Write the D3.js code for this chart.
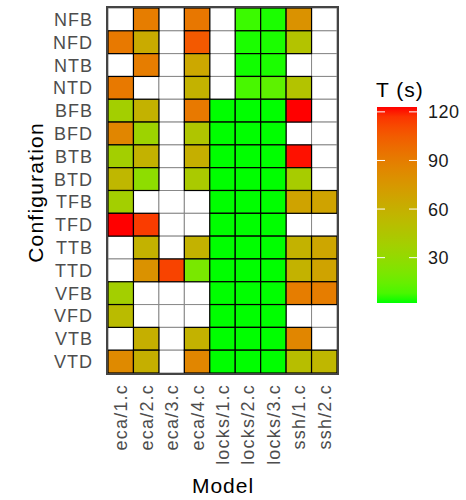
<!DOCTYPE html>
<html>
<head>
<meta charset="utf-8">
<script src="https://cdn.jsdelivr.net/npm/d3@7"></script>
<style>
  body { margin: 0; background: #fff; }
  text { font-family: "Liberation Sans", Arial, sans-serif; }
</style>
</head>
<body>
<script>
var models = ["eca/1.c", "eca/2.c", "eca/3.c", "eca/4.c", "locks/1.c", "locks/2.c", "locks/3.c", "ssh/1.c", "ssh/2.c"];
var configs = ["NFB", "NFD", "NTB", "NTD", "BFB", "BFD", "BTB", "BTD",
               "TFB", "TFD", "TTB", "TTD", "VFB", "VFD", "VTB", "VTD"];

// run time T (s), one row per configuration, null = no result
var times = [
  [null, 90, null, 93, null, 6, 3, 78, null],
  [92, 63, null, 106, null, 3, 3, 47, null],
  [null, 90, null, 65, null, 2.5, 3, null, null],
  [92, null, null, 58, null, 8, 12, 47, null],
  [38, 58, null, 92, 2, 2, 2, 123, null],
  [85, 35, null, 45, 2, 2, 2, null, null],
  [38, 58, null, 60, 2, 2, 2, 122, null],
  [55, 28, null, 42, 2, 2, 2, 40, null],
  [38, null, null, null, 2, 2, 2, 68, 68],
  [123, 115, null, null, 2, 2, 2, null, null],
  [null, 58, null, 58, 2, 2, 2, 58, 66],
  [null, 78, 113, 20, 2, 2, 2, 58, 68],
  [38, null, null, null, 2, 2, 2, 90, 90],
  [52, null, null, null, 2, 2, 2, null, null],
  [null, 60, null, 58, 2, 2, 2, 85, null],
  [83, 60, null, 85, 2, 2, 2, 50, 55]
];
var legendTicks = [30, 60, 90, 120];

var width = 466, height = 500;
var panel = {left: 108, top: 8, right: 337, bottom: 373};

var svg = d3.select("body").append("svg")
    .attr("width", width)
    .attr("height", height);

var x = d3.scaleBand()
    .domain(models)
    .range([panel.left, panel.right]);

var y = d3.scaleBand()
    .domain(configs)
    .range([panel.top, panel.bottom]);

var cells = [];
times.forEach(function(row, i) {
  row.forEach(function(v, j) {
    cells.push({config: configs[i], model: models[j], t: v});
  });
});

var extent = d3.extent(cells.filter(function(d) { return d.t != null; }), function(d) { return d.t; });

var color = d3.scaleLinear()
    .domain(extent)
    .range(["#00ff00", "#ff0000"])
    .interpolate(d3.interpolateLab);

// empty cells first, then the filled ones on top
svg.selectAll(".empty")
    .data(cells.filter(function(d) { return d.t == null; }))
  .enter().append("rect")
    .attr("class", "empty")
    .attr("x", function(d) { return x(d.model); })
    .attr("y", function(d) { return y(d.config); })
    .attr("width", x.bandwidth())
    .attr("height", y.bandwidth())
    .style("fill", "#fff")
    .style("stroke", "#888")
    .style("stroke-width", 1);

svg.selectAll(".cell")
    .data(cells.filter(function(d) { return d.t != null; }))
  .enter().append("rect")
    .attr("class", "cell")
    .attr("x", function(d) { return x(d.model); })
    .attr("y", function(d) { return y(d.config); })
    .attr("width", x.bandwidth())
    .attr("height", y.bandwidth())
    .style("fill", function(d) { return color(d.t); })
    .style("stroke", "#000")
    .style("stroke-width", 1.2);

svg.append("rect")
    .attr("x", panel.left - 1)
    .attr("y", panel.top - 1)
    .attr("width", panel.right - panel.left + 2)
    .attr("height", panel.bottom - panel.top + 2)
    .style("fill", "none")
    .style("stroke", "#444")
    .style("stroke-width", 2);

// y tick labels
svg.selectAll(".ylab")
    .data(configs)
  .enter().append("text")
    .attr("class", "ylab")
    .attr("x", 93)
    .attr("y", function(d) { return y(d) + y.bandwidth() / 2; })
    .attr("dy", "0.36em")
    .style("text-anchor", "end")
    .style("font-size", "18px")
    .style("letter-spacing", "1px")
    .style("fill", "#4d4d4d")
    .text(function(d) { return d; });

// x tick labels
svg.selectAll(".xlab")
    .data(models)
  .enter().append("text")
    .attr("class", "xlab")
    .attr("transform", function(d) {
      return "translate(" + (x(d) + x.bandwidth() / 2) + ",384) rotate(-90)";
    })
    .attr("dy", "0.36em")
    .style("text-anchor", "end")
    .style("font-size", "18px")
    .style("letter-spacing", "1.2px")
    .style("fill", "#4d4d4d")
    .text(function(d) { return d; });

svg.append("text")
    .attr("x", 223)
    .attr("y", 493)
    .style("text-anchor", "middle")
    .style("font-size", "21px")
    .style("letter-spacing", "1px")
    .text("Model");

svg.append("text")
    .attr("transform", "translate(43," + ((panel.top + panel.bottom) / 2 + 2) + ") rotate(-90)")
    .style("text-anchor", "middle")
    .style("font-size", "21px")
    .style("letter-spacing", "1.2px")
    .text("Configuration");

// legend
var bar = {x: 377, top: 107, bottom: 303, w: 40};
var ly = d3.scaleLinear()
    .domain(extent)
    .range([bar.bottom, bar.top]);

var grad = svg.append("defs").append("linearGradient")
    .attr("id", "tgrad")
    .attr("x1", 0).attr("y1", 1)
    .attr("x2", 0).attr("y2", 0);

grad.selectAll("stop")
    .data(d3.range(0, 1.0001, 0.05))
  .enter().append("stop")
    .attr("offset", function(d) { return d; })
    .attr("stop-color", function(d) { return color(extent[0] + d * (extent[1] - extent[0])); });

svg.append("rect")
    .attr("x", bar.x)
    .attr("y", bar.top)
    .attr("width", bar.w)
    .attr("height", bar.bottom - bar.top)
    .style("fill", "url(#tgrad)");

var lt = svg.selectAll(".ltick")
    .data(legendTicks)
  .enter().append("g")
    .attr("class", "ltick");

lt.append("line")
    .attr("x1", bar.x).attr("x2", bar.x + 8)
    .attr("y1", function(d) { return ly(d); })
    .attr("y2", function(d) { return ly(d); })
    .style("stroke", "#fff");

lt.append("line")
    .attr("x1", bar.x + bar.w - 8).attr("x2", bar.x + bar.w)
    .attr("y1", function(d) { return ly(d); })
    .attr("y2", function(d) { return ly(d); })
    .style("stroke", "#fff");

lt.append("text")
    .attr("x", 428)
    .attr("y", function(d) { return ly(d); })
    .attr("dy", "0.36em")
    .style("font-size", "18px")
    .style("letter-spacing", "0.5px")
    .style("fill", "#1a1a1a")
    .text(function(d) { return d; });

svg.append("text")
    .attr("x", 376)
    .attr("y", 97)
    .style("font-size", "21px")
    .style("letter-spacing", "1px")
    .text("T (s)");
</script>
</body>
</html>
